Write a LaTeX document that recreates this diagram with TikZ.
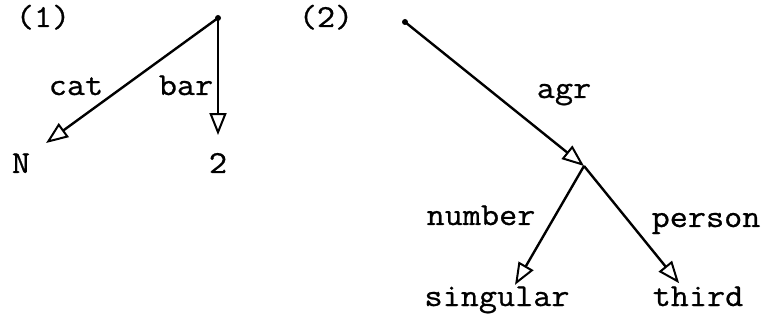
\documentclass[tikz,border=0pt]{standalone}
\usepackage{fontspec}
\setmonofont[FakeStretch=1.1,FakeBold=0.8]{Latin Modern Mono}
\usetikzlibrary{arrows.meta,calc}
\tikzset{
  word/.style={font=\ttfamily\fontsize{32}{36}\selectfont, inner sep=0pt, anchor=base},
  arr/.style={line width=2.4pt, -{Triangle[open, length=22pt, width=17pt, line width=2pt]}},
  dot/.style={circle, fill=black, inner sep=0pt, minimum size=6pt},
}
\begin{document}
\begin{tikzpicture}[x=1pt,y=-1pt]
\useasboundingbox (0,0) rectangle (765,320);
% diagram (1)
\node[word] (l1) at (43,27) {(1)};
\node[dot] (r1) at (218,18) {};
\node[word] (N) at (21,173) {N};
\node[word] (two) at (218,173) {2};
\node[word] (cat) at (76,95) {cat};
\node[word] (bar) at (186,95) {bar};
\draw[arr, shorten >=31pt] (r1.center) -- ([yshift=2pt]N.center);
\draw[arr, shorten >=26pt] (r1.center) -- ([yshift=2pt]two.center);
% diagram (2)
\node[word] (l2) at (326,27) {(2)};
\node[dot] (r2) at (405,22) {};
\coordinate (j) at (584,166);
\node[word] (agr) at (564,98) {agr};
\node[word] (number) at (481,225) {number};
\node[word] (person) at (706,227) {person};
\node[word] (singular) at (497,306) {singular};
\node[word] (third) at (698,306) {third};
\draw[arr] (r2.center) -- (j);
\draw[arr, shorten >=22pt] (j) -- ([xshift=7pt,yshift=-4pt]singular.center);
\draw[arr, shorten >=22pt] (j) -- ([xshift=-5pt,yshift=-4pt]third.center);
\end{tikzpicture}
\end{document}
